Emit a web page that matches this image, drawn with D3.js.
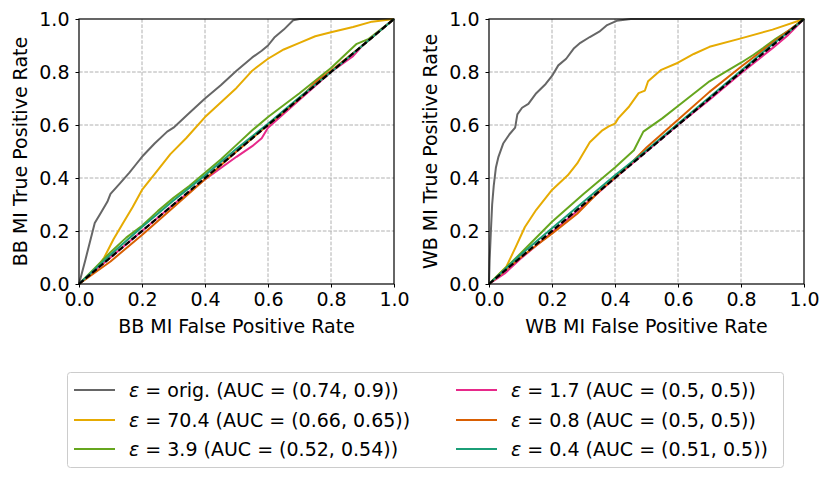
<!DOCTYPE html>
<html lang="en">
<head>
  <meta charset="UTF-8">
  <title>BB / WB MI ROC curves</title>
  <script src="https://d3js.org/d3.v7.min.js"></script>
  <style>
    body {
      margin: 0;
      background-color: #fff;
    }

    svg text {
      font-family: "DejaVu Sans", sans-serif;
      fill: #000;
    }

    .grid line {
      stroke: #b0b0b0;
      stroke-width: 1;
      stroke-dasharray: 3.7, 1.6;
    }

    .curve {
      fill: none;
      stroke-width: 2;
      stroke-linejoin: round;
    }
  </style>
</head>
<body>
  <svg id="chart"></svg>

  <script>
    // tick values for both axes
    const ticks = [0, 0.2, 0.4, 0.6, 0.8, 1.0];

    // legend labels, one per curve
    const labels = [
      "orig. (AUC = (0.74, 0.9))",
      "70.4 (AUC = (0.66, 0.65))",
      "3.9 (AUC = (0.52, 0.54))",
      "1.7 (AUC = (0.5, 0.5))",
      "0.8 (AUC = (0.5, 0.5))",
      "0.4 (AUC = (0.51, 0.5))"
    ];
    const colors = ["#666666", "#e6ab02", "#66a61e", "#e7298a", "#d95f02", "#1b9e77"];

    // black-box MI curves, [fpr, tpr]
    const bbOrig = [[0,0],[0.02,0.09],[0.05,0.23],[0.07,0.27],[0.09,0.31],[0.1,0.34],[0.13,0.38],[0.16,0.42],[0.18,0.45],[0.2,0.48],[0.24,0.53],[0.28,0.575],[0.3,0.59],[0.35,0.645],[0.4,0.7],[0.45,0.75],[0.5,0.805],[0.55,0.855],[0.58,0.88],[0.6,0.9],[0.62,0.93],[0.65,0.96],[0.68,0.995],[0.7,1],[1,1]];
    const bbEps70 = [[0,0],[0.05,0.05],[0.08,0.1],[0.11,0.17],[0.14,0.23],[0.17,0.29],[0.2,0.355],[0.25,0.43],[0.29,0.49],[0.34,0.55],[0.4,0.63],[0.45,0.685],[0.5,0.74],[0.55,0.805],[0.6,0.85],[0.65,0.885],[0.7,0.91],[0.75,0.935],[0.8,0.95],[0.87,0.97],[0.93,0.99],[1,1]];
    const bbEps39 = [[0,0],[0.05,0.06],[0.1,0.12],[0.15,0.175],[0.2,0.22],[0.25,0.275],[0.3,0.325],[0.35,0.37],[0.4,0.42],[0.45,0.47],[0.5,0.525],[0.55,0.58],[0.6,0.63],[0.7,0.72],[0.8,0.815],[0.88,0.905],[0.92,0.925],[1,1]];
    const bbEps17 = [[0,0],[0.1,0.1],[0.2,0.2],[0.3,0.3],[0.4,0.395],[0.5,0.48],[0.55,0.52],[0.58,0.55],[0.6,0.59],[0.7,0.695],[0.8,0.8],[0.87,0.86],[0.9,0.9],[1,1]];
    const bbEps08 = [[0,0],[0.1,0.085],[0.2,0.185],[0.3,0.29],[0.4,0.395],[0.5,0.5],[0.6,0.6],[0.7,0.7],[0.75,0.76],[0.8,0.805],[0.9,0.9],[1,1]];
    const bbEps04 = [[0,0],[0.1,0.11],[0.2,0.215],[0.3,0.315],[0.4,0.41],[0.5,0.51],[0.6,0.605],[0.7,0.705],[0.8,0.8],[0.9,0.9],[1,1]];

    // white-box MI curves, [fpr, tpr]
    const wbOrig = [[0,0],[0.002,0.09],[0.006,0.2],[0.01,0.3],[0.015,0.37],[0.022,0.44],[0.03,0.48],[0.045,0.53],[0.065,0.565],[0.083,0.59],[0.09,0.64],[0.105,0.665],[0.125,0.68],[0.15,0.72],[0.18,0.755],[0.2,0.785],[0.22,0.825],[0.245,0.85],[0.27,0.89],[0.29,0.91],[0.32,0.932],[0.35,0.952],[0.375,0.977],[0.405,0.993],[0.45,1],[1,1]];
    const wbEps70 = [[0,0],[0.055,0.065],[0.085,0.14],[0.114,0.215],[0.15,0.28],[0.2,0.355],[0.25,0.41],[0.28,0.455],[0.32,0.535],[0.36,0.58],[0.38,0.595],[0.4,0.605],[0.41,0.625],[0.445,0.67],[0.475,0.72],[0.495,0.73],[0.505,0.765],[0.545,0.807],[0.6,0.835],[0.65,0.868],[0.7,0.895],[0.8,0.927],[0.9,0.96],[1,1]];
    const wbEps39 = [[0,0],[0.1,0.115],[0.2,0.235],[0.3,0.34],[0.35,0.39],[0.4,0.44],[0.46,0.505],[0.49,0.575],[0.55,0.625],[0.6,0.672],[0.7,0.765],[0.8,0.835],[0.84,0.865],[0.87,0.89],[0.91,0.925],[0.95,0.955],[1,1]];
    const wbEps17 = [[0,0],[0.05,0.04],[0.1,0.095],[0.2,0.195],[0.3,0.295],[0.4,0.4],[0.5,0.5],[0.6,0.6],[0.7,0.695],[0.8,0.795],[0.9,0.89],[0.95,0.94],[1,1]];
    const wbEps08 = [[0,0],[0.05,0.05],[0.1,0.1],[0.15,0.145],[0.2,0.19],[0.28,0.265],[0.35,0.35],[0.45,0.455],[0.5,0.515],[0.6,0.62],[0.7,0.725],[0.8,0.82],[0.9,0.91],[1,1]];
    const wbEps04 = [[0,0],[0.1,0.11],[0.2,0.21],[0.3,0.31],[0.4,0.41],[0.5,0.505],[0.6,0.605],[0.7,0.705],[0.8,0.805],[0.9,0.905],[0.95,0.95],[1,1]];

    const width = 831;
    const height = 480;

    const svg = d3.select("#chart")
      .attr("width", width)
      .attr("height", height);

    const panels = [
      { left: 79, right: 394, name: "BB", curves: [bbOrig, bbEps70, bbEps39, bbEps17, bbEps08, bbEps04] },
      { left: 489, right: 804, name: "WB", curves: [wbOrig, wbEps70, wbEps39, wbEps17, wbEps08, wbEps04] }
    ];
    const plotTop = 19, plotBottom = 284;

    panels.forEach(p => {
      const x = d3.scaleLinear().domain([0, 1]).range([p.left, p.right]);
      const y = d3.scaleLinear().domain([0, 1]).range([plotBottom, plotTop]);
      const g = svg.append("g");

      // grid lines
      const grid = g.append("g").attr("class", "grid");
      grid.selectAll(".gx").data(ticks.slice(1, -1)).enter().append("line")
        .attr("x1", d => x(d)).attr("x2", d => x(d))
        .attr("y1", plotTop).attr("y2", plotBottom);
      grid.selectAll(".gy").data(ticks.slice(1, -1)).enter().append("line")
        .attr("y1", d => y(d)).attr("y2", d => y(d))
        .attr("x1", p.left).attr("x2", p.right);

      // curves
      const line = d3.line().x(d => x(d[0])).y(d => y(d[1]));
      p.curves.forEach((c, i) => {
        g.append("path")
          .datum(c)
          .attr("class", "curve")
          .attr("stroke", colors[i])
          .attr("d", line);
      });

      // chance line
      g.append("path")
        .datum([[0, 0], [1, 1]])
        .attr("fill", "none")
        .attr("stroke", "#000")
        .attr("stroke-width", 2.2)
        .attr("stroke-dasharray", "6,2.6")
        .attr("d", line);

      // axes
      const xAxis = d3.axisBottom(x).tickValues(ticks).tickFormat(d3.format(".1f"))
        .tickSize(3.5).tickPadding(5).tickSizeOuter(0);
      const yAxis = d3.axisLeft(y).tickValues(ticks).tickFormat(d3.format(".1f"))
        .tickSize(3.5).tickPadding(6).tickSizeOuter(0);

      const gx = g.append("g").attr("transform", `translate(0,${plotBottom})`).call(xAxis);
      const gy = g.append("g").attr("transform", `translate(${p.left},0)`).call(yAxis);
      [gx, gy].forEach(a => {
        a.select(".domain").remove();
        a.selectAll("text").style("font-size", "19px").style("font-family", "DejaVu Sans");
        a.selectAll("line").attr("stroke", "#000").attr("stroke-width", 1);
      });

      // frame
      g.append("rect")
        .attr("x", p.left).attr("y", plotTop)
        .attr("width", p.right - p.left).attr("height", plotBottom - plotTop)
        .attr("fill", "none").attr("stroke", "#000").attr("stroke-width", 1.2);

      // axis labels
      g.append("text")
        .attr("x", (p.left + p.right) / 2).attr("y", 333)
        .attr("text-anchor", "middle")
        .style("font-size", "19px")
        .text(p.name + " MI False Positive Rate");
      g.append("text")
        .attr("transform", `translate(${p.left - 52.5},${(plotTop + plotBottom) / 2}) rotate(-90)`)
        .attr("text-anchor", "middle")
        .style("font-size", "19px")
        .text(p.name + " MI True Positive Rate");
    });

    // legend
    const legend = svg.append("g");
    legend.append("rect")
      .attr("x", 67.5).attr("y", 372.5)
      .attr("width", 716).attr("height", 95)
      .attr("rx", 3)
      .attr("fill", "#fff")
      .attr("stroke", "#cccccc")
      .attr("stroke-width", 1);

    const colX = [74, 456];
    const rowY = [390, 420, 449];
    labels.forEach((lab, i) => {
      const cx = colX[Math.floor(i / 3)];
      const ry = rowY[i % 3];
      legend.append("line")
        .attr("x1", cx).attr("x2", cx + 41)
        .attr("y1", ry).attr("y2", ry)
        .attr("stroke", colors[i]).attr("stroke-width", 2.2);
      const t = legend.append("text")
        .attr("x", cx + 55).attr("y", ry + 7)
        .style("font-size", "19px");
      t.append("tspan").style("font-style", "italic").text("ε");
      t.append("tspan").text(" = " + lab);
    });
  </script>
</body>
</html>
